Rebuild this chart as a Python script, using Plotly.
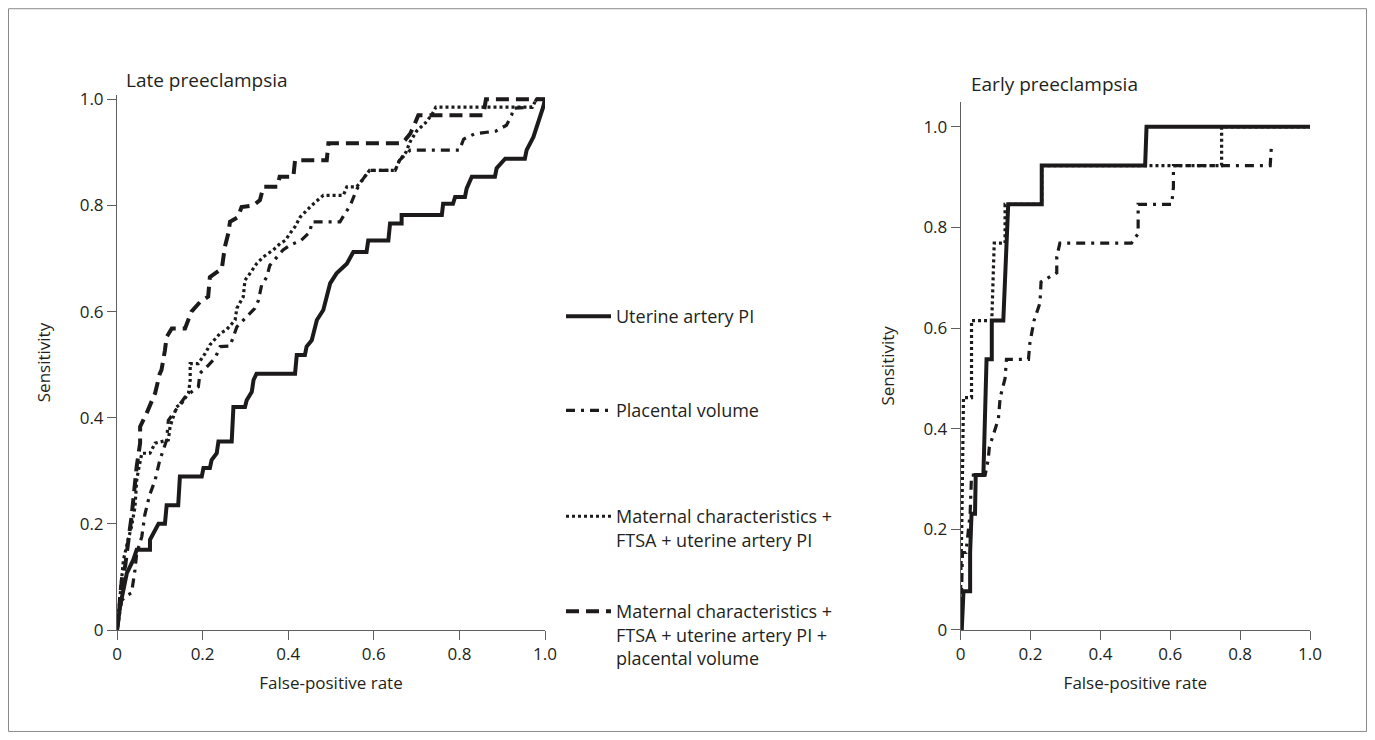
import plotly.graph_objects as go

# ---------------- data ----------------
# Late preeclampsia
late_uta_fpr = [0, 0.007, 0.023, 0.038, 0.046, 0.077, 0.077, 0.089, 0.097, 0.112, 0.116, 0.143, 0.147, 0.198,
                0.202, 0.217, 0.221, 0.233, 0.237, 0.268, 0.272, 0.299, 0.303, 0.315, 0.319, 0.326, 0.416,
                0.420, 0.439, 0.443, 0.455, 0.467, 0.482, 0.498, 0.513, 0.537, 0.552, 0.583, 0.587, 0.634,
                0.638, 0.665, 0.665, 0.759, 0.762, 0.785, 0.790, 0.813, 0.817, 0.829, 0.883, 0.887, 0.907,
                0.953, 0.957, 0.973, 0.981, 0.996, 1.0]
late_uta_sens = [0, 0.044, 0.107, 0.132, 0.151, 0.151, 0.170, 0.188, 0.200, 0.200, 0.235, 0.235, 0.289, 0.289,
                 0.305, 0.305, 0.320, 0.333, 0.355, 0.355, 0.420, 0.420, 0.433, 0.449, 0.471, 0.483, 0.483,
                 0.518, 0.518, 0.534, 0.546, 0.584, 0.603, 0.653, 0.672, 0.690, 0.712, 0.712, 0.734, 0.734,
                 0.766, 0.766, 0.782, 0.782, 0.803, 0.803, 0.816, 0.816, 0.832, 0.854, 0.854, 0.870, 0.888,
                 0.888, 0.904, 0.929, 0.948, 0.986, 1.0]

late_pv_fpr = [0, 0.005, 0.011, 0.025, 0.034, 0.042, 0.046, 0.058, 0.065, 0.076, 0.089, 0.100, 0.116, 0.120,
               0.132, 0.160, 0.190, 0.194, 0.210, 0.229, 0.241, 0.264, 0.280, 0.322, 0.330, 0.338, 0.350,
               0.357, 0.388, 0.404, 0.430, 0.451, 0.455, 0.521, 0.533, 0.545, 0.560, 0.575, 0.590, 0.650,
               0.660, 0.685, 0.800, 0.810, 0.836, 0.885, 0.910, 0.922, 0.926, 0.970, 0.980, 1.0]
late_pv_sens = [0, 0.030, 0.056, 0.066, 0.070, 0.113, 0.144, 0.176, 0.217, 0.254, 0.282, 0.320, 0.358, 0.395,
                0.408, 0.440, 0.458, 0.484, 0.496, 0.512, 0.534, 0.535, 0.571, 0.606, 0.620, 0.650, 0.665,
                0.687, 0.716, 0.725, 0.734, 0.750, 0.769, 0.769, 0.785, 0.800, 0.830, 0.850, 0.866, 0.866,
                0.885, 0.904, 0.904, 0.925, 0.935, 0.940, 0.951, 0.970, 0.983, 0.985, 1.0, 1.0]

late_mfu_fpr = [0, 0.005, 0.010, 0.015, 0.026, 0.034, 0.042, 0.046, 0.050, 0.058, 0.077, 0.089, 0.120, 0.124,
                0.139, 0.151, 0.167, 0.171, 0.171, 0.190, 0.206, 0.217, 0.241, 0.255, 0.276, 0.280, 0.295,
                0.299, 0.311, 0.326, 0.342, 0.365, 0.381, 0.393, 0.404, 0.416, 0.428, 0.435, 0.455, 0.482,
                0.529, 0.537, 0.560, 0.575, 0.590, 0.650, 0.660, 0.675, 0.685, 0.700, 0.720, 0.735, 0.745,
                0.970, 0.980, 1.0]
late_mfu_sens = [0, 0.050, 0.090, 0.132, 0.170, 0.195, 0.232, 0.282, 0.301, 0.333, 0.333, 0.352, 0.358, 0.383,
                 0.420, 0.427, 0.446, 0.471, 0.502, 0.502, 0.521, 0.537, 0.559, 0.565, 0.584, 0.606, 0.628,
                 0.659, 0.672, 0.690, 0.703, 0.716, 0.728, 0.734, 0.747, 0.760, 0.778, 0.784, 0.800, 0.819,
                 0.819, 0.835, 0.835, 0.850, 0.866, 0.866, 0.885, 0.900, 0.920, 0.940, 0.955, 0.970, 0.985,
                 0.985, 1.0, 1.0]

late_full_fpr = [0, 0.005, 0.007, 0.012, 0.019, 0.026, 0.030, 0.034, 0.042, 0.046, 0.054, 0.054, 0.069, 0.080,
                 0.089, 0.100, 0.104, 0.112, 0.116, 0.128, 0.159, 0.174, 0.194, 0.213, 0.217, 0.245, 0.252,
                 0.260, 0.264, 0.283, 0.291, 0.319, 0.334, 0.342, 0.375, 0.380, 0.412, 0.416, 0.490, 0.494,
                 0.665, 0.673, 0.685, 0.696, 0.704, 0.856, 0.862, 1.0]
late_full_sens = [0, 0.030, 0.060, 0.100, 0.120, 0.157, 0.190, 0.213, 0.276, 0.308, 0.352, 0.383, 0.408, 0.430,
                  0.446, 0.483, 0.490, 0.527, 0.552, 0.568, 0.568, 0.600, 0.618, 0.628, 0.665, 0.681, 0.722,
                  0.747, 0.769, 0.778, 0.797, 0.800, 0.810, 0.835, 0.835, 0.854, 0.854, 0.885, 0.885, 0.917,
                  0.917, 0.923, 0.935, 0.954, 0.970, 0.970, 1.0, 1.0]

# Early preeclampsia
early_uta_fpr = [0.003, 0.008, 0.027, 0.027, 0.031, 0.041, 0.043, 0.065, 0.068, 0.074, 0.089, 0.089, 0.122,
                 0.127, 0.132, 0.136, 0.232, 0.232, 0.528, 0.532, 1.0]
early_uta_sens = [0, 0.077, 0.077, 0.154, 0.231, 0.231, 0.308, 0.308, 0.385, 0.538, 0.538, 0.615, 0.615,
                  0.692, 0.769, 0.846, 0.846, 0.923, 0.923, 1.0, 1.0]

early_pv_fpr = [0, 0.003, 0.005, 0.015, 0.027, 0.031, 0.070, 0.079, 0.082, 0.093, 0.108, 0.113, 0.127, 0.131,
                0.194, 0.198, 0.210, 0.227, 0.230, 0.275, 0.275, 0.284, 0.489, 0.508, 0.508, 0.604, 0.609,
                0.609, 0.886, 0.890]
early_pv_sens = [0, 0.077, 0.154, 0.154, 0.231, 0.308, 0.308, 0.340, 0.364, 0.387, 0.420, 0.462, 0.500, 0.538,
                 0.538, 0.570, 0.615, 0.650, 0.692, 0.710, 0.742, 0.769, 0.769, 0.788, 0.846, 0.846, 0.880,
                 0.923, 0.923, 0.967]

early_mfu_fpr = [0, 0, 0.003, 0.008, 0.031, 0.031, 0.089, 0.096, 0.127, 0.127, 0.232, 0.232, 0.747, 0.747, 1.0]
early_mfu_sens = [0, 0.100, 0.200, 0.462, 0.462, 0.615, 0.615, 0.769, 0.769, 0.846, 0.846, 0.923, 0.923, 1.0, 1.0]

series_names = [
    "Uterine artery PI",
    "Placental volume",
    "Maternal characteristics +<br>FTSA + uterine artery PI",
    "Maternal characteristics +<br>FTSA + uterine artery PI +<br>placental volume",
]
x_ticks = [0, 0.2, 0.4, 0.6, 0.8, 1.0]
x_ticklabels = ["0", "0.2", "0.4", "0.6", "0.8", "1.0"]
y_ticks = [0, 0.2, 0.4, 0.6, 0.8, 1.0]
y_ticklabels = ["0", "0.2", "0.4", "0.6", "0.8", "1.0"]

# ---------------- styling ----------------
INK = "#1c1a1b"
TXT = "#231f20"
AX = "#5f5f5f"
FONT = "Open Sans"
styles = [
    dict(color=INK, width=4, dash="solid"),
    dict(color=INK, width=3.2, dash="9px,6px,3px,6px"),
    dict(color=INK, width=3.2, dash="3px,3px"),
    dict(color=INK, width=4, dash="13px,7px"),
]

fig = go.Figure()

late = [(late_uta_fpr, late_uta_sens), (late_pv_fpr, late_pv_sens),
        (late_mfu_fpr, late_mfu_sens), (late_full_fpr, late_full_sens)]
early = [(early_uta_fpr, early_uta_sens), (early_pv_fpr, early_pv_sens),
         (early_mfu_fpr, early_mfu_sens)]

legend_ids = ["legend", "legend2", "legend3", "legend4"]
for i in [3, 2, 1, 0]:
    xs, ys = late[i]
    fig.add_trace(go.Scatter(x=xs, y=ys, mode="lines", line=styles[i], name=series_names[i],
                             legend=legend_ids[i], showlegend=True, xaxis="x", yaxis="y",
                             hoverinfo="skip"))
for i in [2, 1, 0]:
    xs, ys = early[i]
    fig.add_trace(go.Scatter(x=xs, y=ys, mode="lines", line=styles[i], name=series_names[i],
                             legend=legend_ids[i], showlegend=False, xaxis="x2", yaxis="y2",
                             hoverinfo="skip"))

# geometry: screen pixels; the page body adds an 8px offset
OFF = 8
W, H = 1359, 724
PL, PR = 117, 1310          # screen x of plot area
Y0 = 630                    # screen y of value 0
PT = 94.8                   # screen y of plot-area top
pw = PR - PL
ph = Y0 - PT


def px(xp):
    return (xp - PL) / pw


def py(yp):
    return (Y0 - yp) / ph


tick_font = dict(family=FONT, size=17, color=TXT)
title_font = dict(family=FONT, size=17, color=TXT)
axis_common = dict(showline=True, linecolor=AX, linewidth=1, ticks="outside", ticklen=9,
                   tickcolor=AX, tickwidth=1, showgrid=False, zeroline=False,
                   tickfont=tick_font, fixedrange=True)

fig.update_layout(
    width=W, height=H,
    margin=dict(l=PL - OFF, r=(OFF + W) - PR, t=PT - OFF, b=(OFF + H) - Y0, pad=0),
    paper_bgcolor="white", plot_bgcolor="white",
    font=dict(family=FONT, size=17, color=TXT),
    xaxis=dict(domain=[0, px(545)], range=[0, 1.0], tickvals=x_ticks, ticktext=x_ticklabels,
               anchor="y", title=dict(text="False-positive rate", standoff=12, font=title_font),
               **axis_common),
    yaxis=dict(domain=[0, 1], range=[0, 1.008], tickvals=y_ticks, ticktext=y_ticklabels,
               anchor="x", title=dict(text="Sensitivity", standoff=24, font=title_font),
               **axis_common),
    xaxis2=dict(domain=[px(960.7), 1], range=[0, 1.0], tickvals=x_ticks, ticktext=x_ticklabels,
                anchor="y2", title=dict(text="False-positive rate", standoff=12, font=title_font),
                **axis_common),
    yaxis2=dict(domain=[0, py(101.5)], range=[0, 1.05], tickvals=y_ticks, ticktext=y_ticklabels,
                anchor="x2", title=dict(text="Sensitivity", standoff=24, font=title_font),
                **axis_common),
    showlegend=True,
)

leg_common = dict(bgcolor="rgba(0,0,0,0)", borderwidth=0, xanchor="left", yanchor="top",
                  font=dict(family=FONT, size=18, color=TXT), itemwidth=45,
                  valign="top", tracegroupgap=0, itemclick=False, itemdoubleclick=False)
leg_x = px(561)
fig.update_layout(
    legend=dict(x=leg_x, y=py(298), **leg_common),
    legend2=dict(x=leg_x, y=py(392), **leg_common),
    legend3=dict(x=leg_x, y=py(498), **leg_common),
    legend4=dict(x=leg_x, y=py(593), **leg_common),
)

fig.add_annotation(text="Late preeclampsia", xref="paper", yref="paper", x=px(124), y=py(80),
                   xanchor="left", yanchor="middle", showarrow=False,
                   font=dict(family=FONT, size=19, color=TXT))
fig.add_annotation(text="Early preeclampsia", xref="paper", yref="paper", x=px(969), y=py(84),
                   xanchor="left", yanchor="middle", showarrow=False,
                   font=dict(family=FONT, size=19, color=TXT))

# outer frame around the whole figure
fig.add_shape(type="rect", xref="paper", yref="paper",
              x0=px(OFF + 0.5), x1=px(OFF + W - 0.5), y0=py(OFF + H - 0.5), y1=py(OFF + 0.5),
              line=dict(color="#8a8a8a", width=1), fillcolor="rgba(0,0,0,0)", layer="below")

fig.write_html("out.html")
